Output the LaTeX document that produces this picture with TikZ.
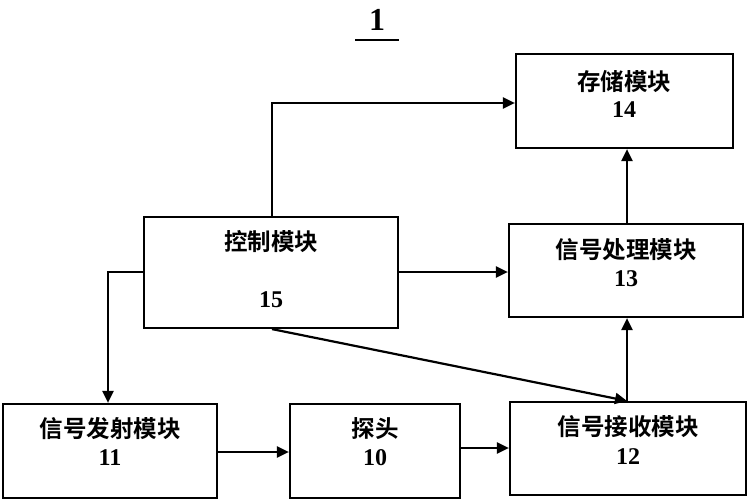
\documentclass[tikz,border=0pt]{standalone}
\usepackage{fontspec}
\setmainfont{Liberation Serif}
\newfontfamily\cjk{Noto Sans CJK SC Bold}
\usetikzlibrary{arrows.meta}
\begin{document}
\begin{tikzpicture}[x=1pt,y=-1pt,
  box/.style={draw,line width=2.2pt,rectangle,inner sep=0pt},
  zh/.style={font=\cjk\fontsize{23.5}{26}\selectfont,inner sep=0pt},
  num/.style={font=\bfseries\fontsize{24}{26}\selectfont,inner sep=0pt},
  arr/.style={line width=2.2pt,-{Triangle[length=12pt,width=11pt]}}]
\useasboundingbox (0,0) rectangle (747,500);
% title
\node[font=\bfseries\fontsize{32}{34}\selectfont,inner sep=0pt] (title) at (377,20) {1};
\draw[line width=2pt] (355,40) -- (399,40);
% boxes
\node[box,minimum width=217pt,minimum height=94pt] (s14) at (624.5,101) {};
\node[box,minimum width=254pt,minimum height=111pt] (c15) at (271,272.5) {};
\node[box,minimum width=234pt,minimum height=93pt] (p13) at (626,270.5) {};
\node[box,minimum width=236pt,minimum height=93pt] (r12) at (628,448.5) {};
\node[box,minimum width=214pt,minimum height=94pt] (t11) at (110,451) {};
\node[box,minimum width=170pt,minimum height=94pt] (b10) at (375,451) {};
% texts
\node[zh] (s14a) at (624,82) {存储模块};
\node[num] (s14b) at (624,110) {14};
\node[zh] (c15a) at (271,242) {控制模块};
\node[num] (c15b) at (271,300) {15};
\node[zh] (p13a) at (626,250) {信号处理模块};
\node[num] (p13b) at (626,279) {13};
\node[zh] (r12a) at (628,427) {信号接收模块};
\node[num] (r12b) at (628,457) {12};
\node[zh] (t11a) at (110,429) {信号发射模块};
\node[num] (t11b) at (110,458) {11};
\node[zh] (b10a) at (375,429) {探头};
\node[num] (b10b) at (375,458) {10};
% connectors
\coordinate (k1) at (272,103);
\coordinate (k2) at (108,272);
\draw[arr] (c15.north -| k1) -- (k1) -- (s14.west |- k1);
\draw[arr] (c15.east |- 0,272) -- (p13.west |- 0,272);
\draw[arr] (c15.west |- k2) -- (k2) -- (t11.north -| k2);
\draw[arr] (c15.south -| k1) -- (r12.north -| 627,0);
\draw[arr] (r12.north -| 627,0) -- (p13.south -| 627,0);
\draw[arr] (p13.north -| 627,0) -- (s14.south -| 627,0);
\draw[arr] (t11.east |- 0,452) -- (b10.west |- 0,452);
\draw[arr] (b10.east |- 0,448) -- (r12.west |- 0,448);
\end{tikzpicture}
\end{document}
